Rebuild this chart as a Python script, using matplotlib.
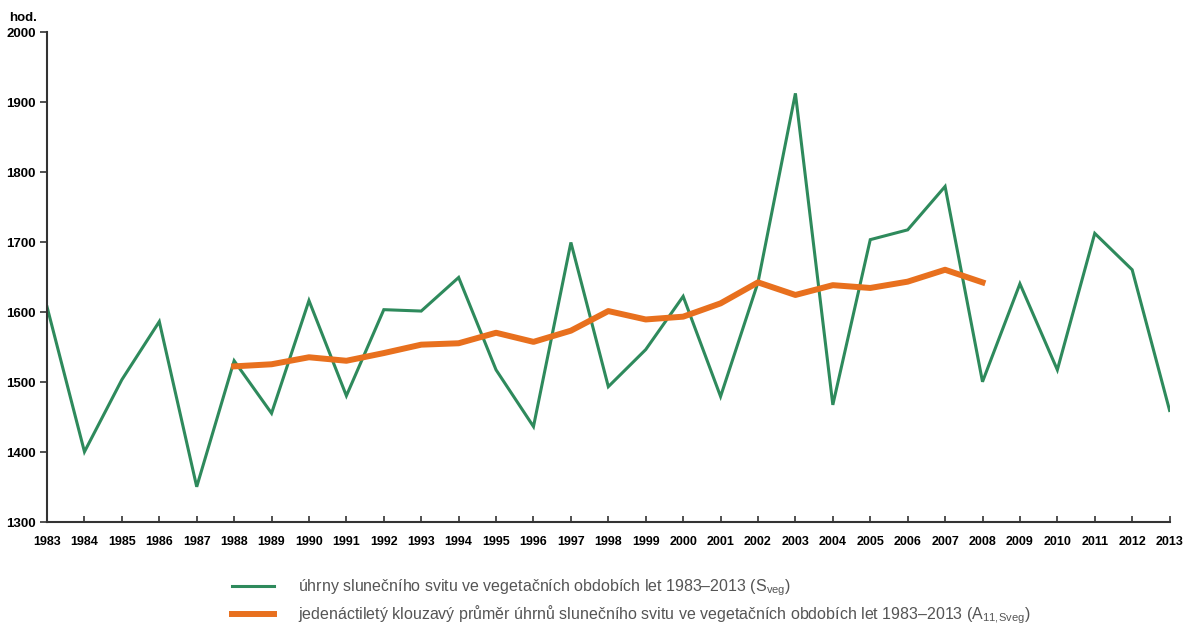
import matplotlib.pyplot as plt
from matplotlib.lines import Line2D

plt.rcParams['font.family'] = ['Liberation Sans', 'DejaVu Sans']
plt.rcParams['mathtext.fontset'] = 'custom'
plt.rcParams['mathtext.rm'] = 'Liberation Sans'

years = list(range(1983, 2014))
sveg = [1608, 1401, 1504, 1587, 1351, 1531, 1456, 1617, 1481, 1604,
        1602, 1650, 1518, 1437, 1700, 1494, 1547, 1623, 1480, 1643,
        1913, 1468, 1704, 1718, 1780, 1501, 1641, 1518, 1713, 1661, 1460]

avg_years = list(range(1988, 2009))
a11 = [1523, 1526, 1536, 1531, 1542, 1554, 1556, 1571, 1558, 1574,
       1602, 1590, 1594, 1613, 1643, 1625, 1639, 1635, 1644, 1661, 1643]

green = '#2e8a5c'
orange = '#e8701e'

fig = plt.figure(figsize=(11.85, 6.24), dpi=100)
ax = fig.add_axes([0.0397, 0.1627, 0.9473, 0.7853])

ax.plot(years, sveg, color=green, lw=2.2, solid_joinstyle='miter')
ax.plot(avg_years, a11, color=orange, lw=4.3)

ax.set_xlim(1983, 2013)
ax.set_ylim(1300, 2000)
ax.set_xticks(years)
ax.set_yticks(range(1300, 2001, 100))
ax.tick_params(axis='x', direction='in', length=4, width=1.2, color='#333333', pad=10,
               labelsize=9)
ax.tick_params(axis='y', direction='out', length=5, width=1.2, color='#333333', pad=3,
               labelsize=9.5)
for lab in ax.get_xticklabels() + ax.get_yticklabels():
    lab.set_fontweight('bold')
for s in ['top', 'right']:
    ax.spines[s].set_visible(False)
for s in ['left', 'bottom']:
    ax.spines[s].set_color('#333333')
    ax.spines[s].set_linewidth(1.5)

fig.text(0.0076, 0.971, 'hod.', fontsize=9.5, fontweight='bold', ha='left', va='center')

handles = [Line2D([], [], color=green, lw=2.2), Line2D([], [], color=orange, lw=4.3)]
labels = [r'úhrny slunečního svitu ve vegetačních obdobích let 1983–2013 (S$_{\mathrm{veg}}$)',
          r'jedenáctiletý klouzavý průměr úhrnů slunečního svitu ve vegetačních obdobích let 1983–2013 (A$_{\mathrm{11{,}Sveg}}$)']
leg = fig.legend(handles, labels, loc='upper left', bbox_to_anchor=(0.1958, 0.074),
                 frameon=False, fontsize=11.5, handlelength=2.65, handletextpad=1.5,
                 labelspacing=0.33, borderaxespad=0, borderpad=0)
for t in leg.get_texts():
    t.set_color('#555555')

fig.savefig('out.png', dpi=100)
